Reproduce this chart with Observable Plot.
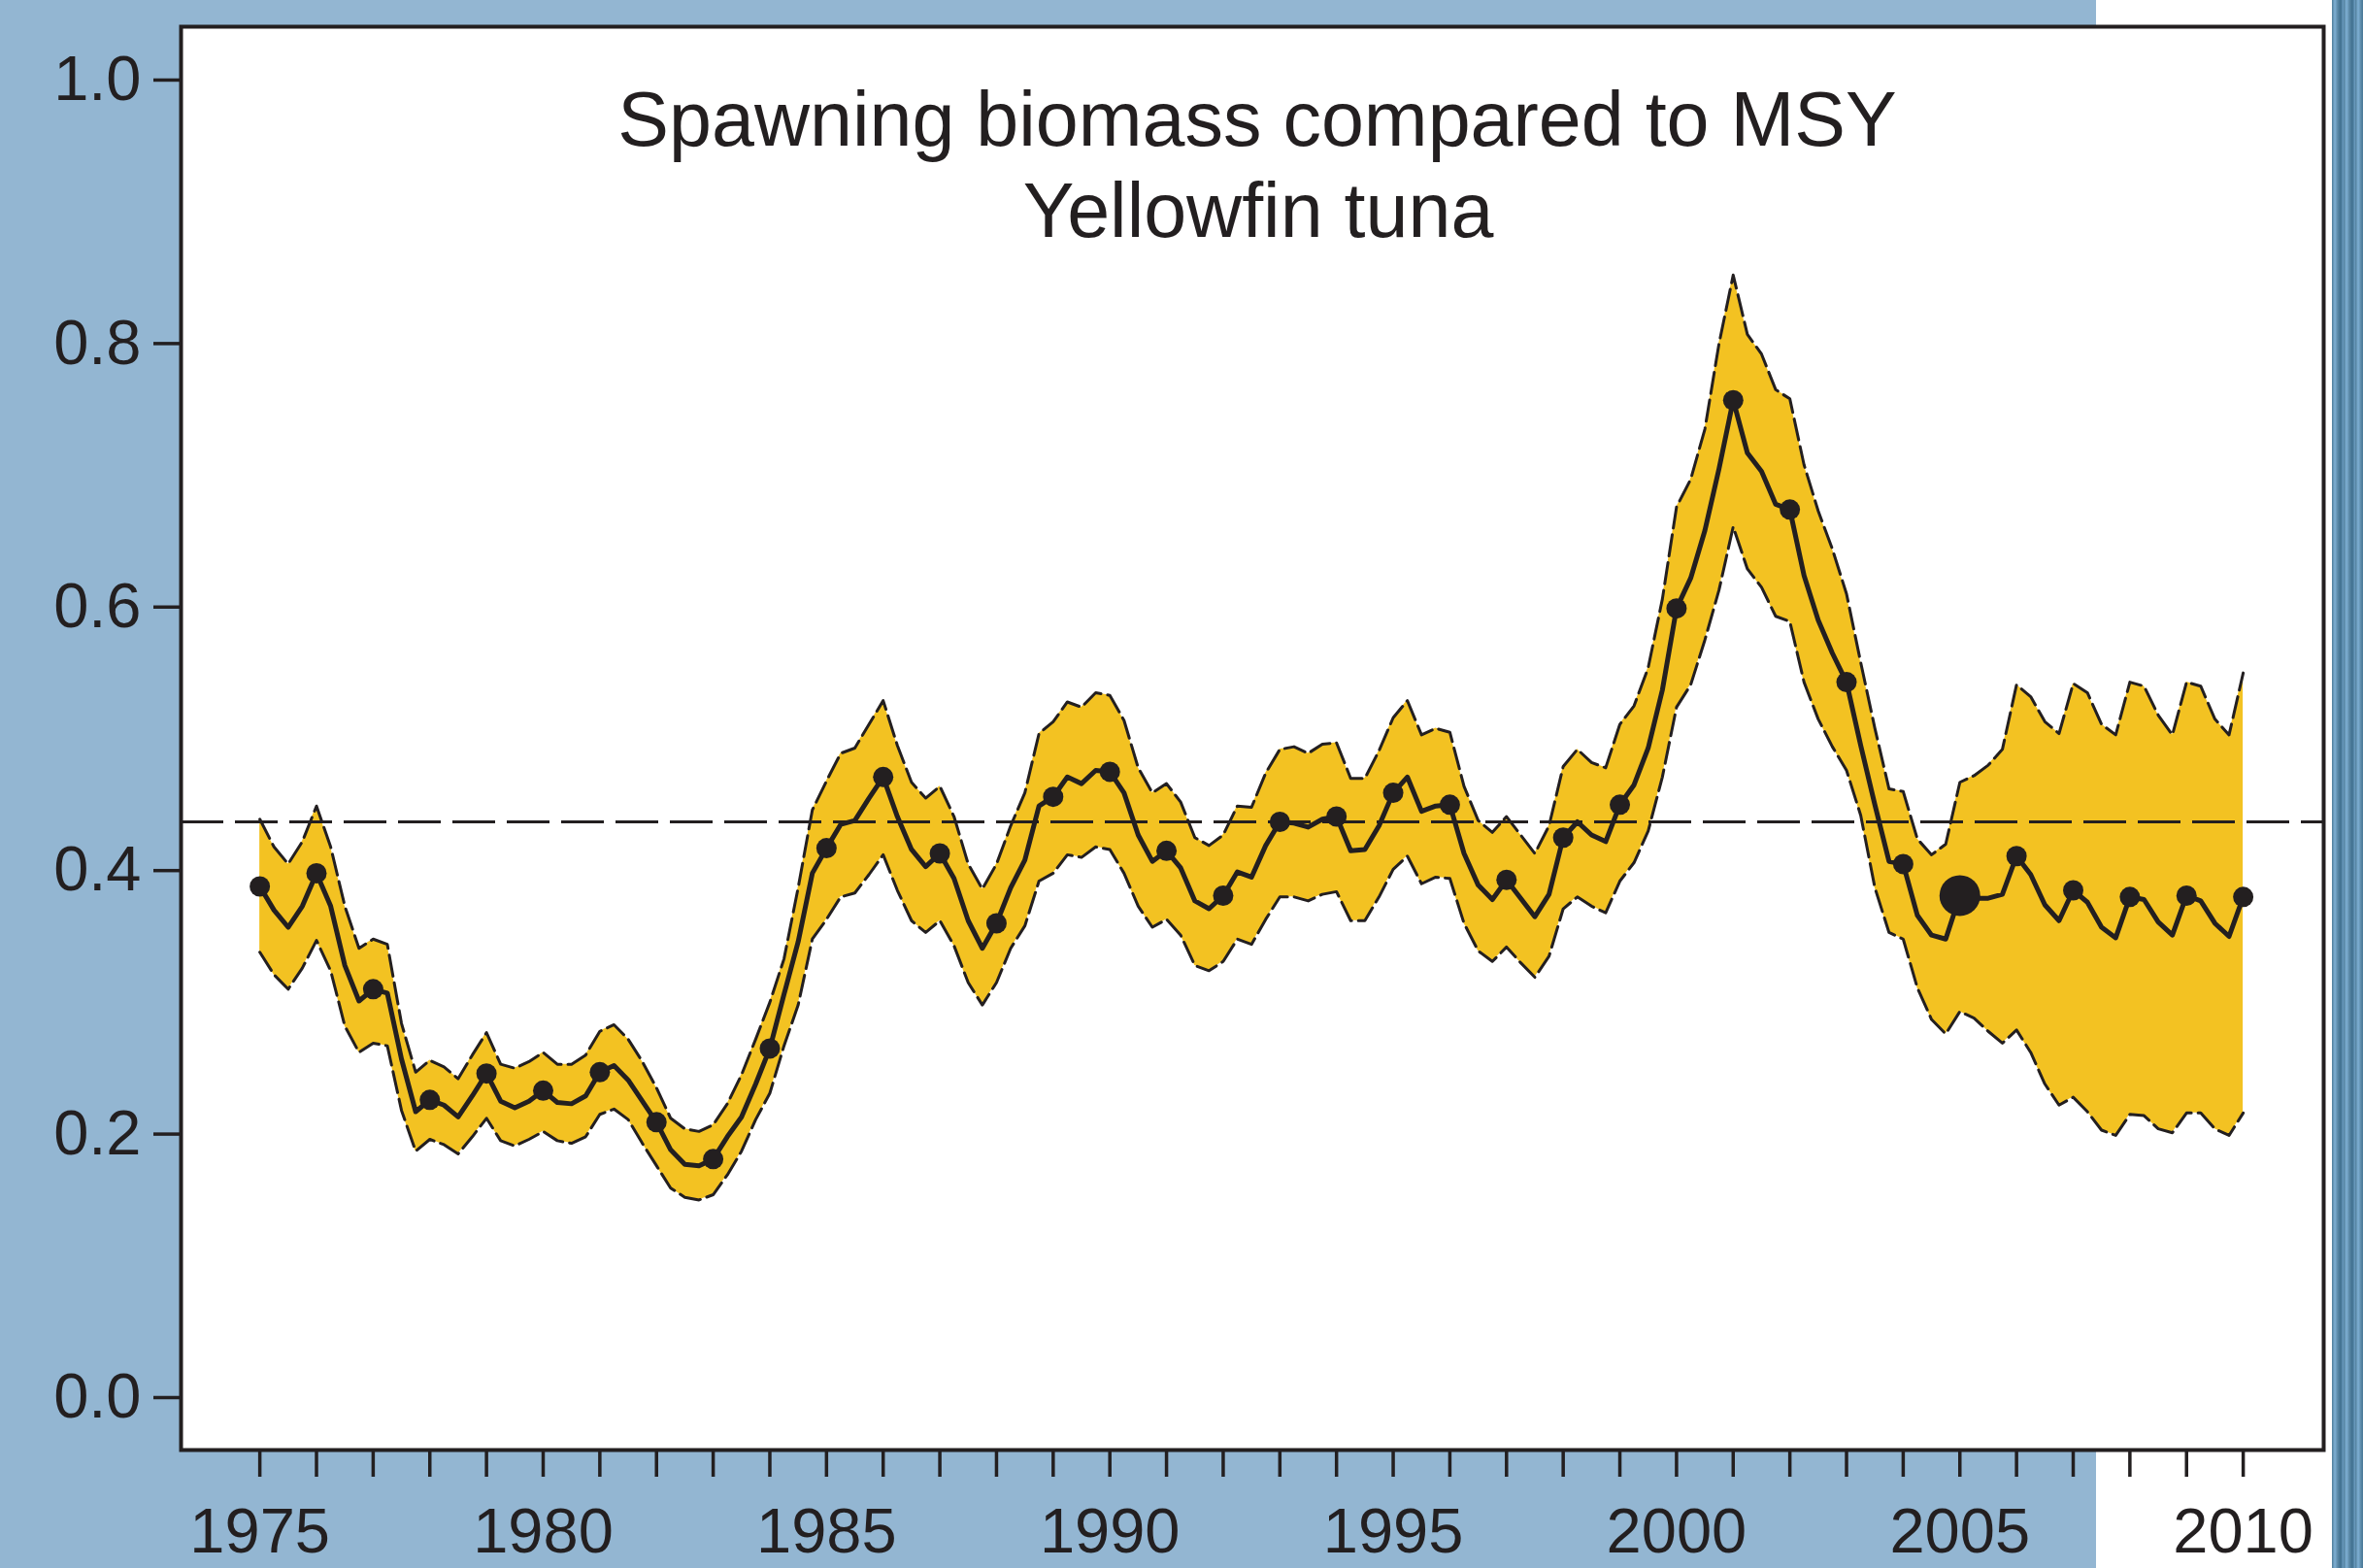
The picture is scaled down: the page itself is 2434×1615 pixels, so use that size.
<!DOCTYPE html>
<html>
<head>
<meta charset="utf-8">
<script src="https://cdn.jsdelivr.net/npm/d3@7"></script>
<script src="https://cdn.jsdelivr.net/npm/@observablehq/plot@0.6"></script>
<style>
  html, body { margin: 0; padding: 0; background: #ffffff; }
  #page { position: relative; width: 2434px; height: 1615px; overflow: hidden; background: #ffffff; }
  #blue { position: absolute; left: 0; top: 0; width: 2159px; height: 1615px; background: #93b6d2; }
  #strip { position: absolute; left: 2402px; top: 0; width: 32px; height: 1615px;
    background: repeating-linear-gradient(to right, #4f7d9a 0px, #7fb0d4 3px, #5a88a6 6px, #3f6f8e 9px, #6fa0c4 12px); }
  #chart { position: absolute; left: 0; top: 0; }
</style>
</head>
<body>
<div id="page">
  <div id="blue"></div>
  <div id="strip"></div>
  <div id="chart"></div>
</div>
<script>
// ---- Data (quarterly estimates, 1975.00 .. 2010.00) ----
const startYear = 1975;
const stepsPerYear = 4;

const spawningRatio = [
  0.388, 0.370, 0.357, 0.373,
  0.398, 0.373, 0.328, 0.301,
  0.310, 0.307, 0.257, 0.217,
  0.226, 0.222, 0.213, 0.229,
  0.246, 0.225, 0.220, 0.225,
  0.233, 0.224, 0.223, 0.229,
  0.247, 0.252, 0.241, 0.225,
  0.209, 0.188, 0.177, 0.176,
  0.181, 0.198, 0.213, 0.238,
  0.265, 0.306, 0.346, 0.398,
  0.417, 0.435, 0.438, 0.455,
  0.471, 0.441, 0.416, 0.403,
  0.413, 0.394, 0.362, 0.341,
  0.360, 0.387, 0.408, 0.449,
  0.456, 0.471, 0.466, 0.476,
  0.475, 0.459, 0.427, 0.407,
  0.415, 0.402, 0.377, 0.371,
  0.381, 0.399, 0.395, 0.419,
  0.437, 0.436, 0.433, 0.439,
  0.441, 0.415, 0.416, 0.434,
  0.459, 0.471, 0.445, 0.449,
  0.450, 0.413, 0.389, 0.378,
  0.393, 0.379, 0.365, 0.382,
  0.425, 0.437, 0.427, 0.422,
  0.450, 0.465, 0.493, 0.537,
  0.599, 0.622, 0.658, 0.705,
  0.757, 0.717, 0.703, 0.678,
  0.674, 0.624, 0.590, 0.565,
  0.543, 0.495, 0.450, 0.407,
  0.405, 0.366, 0.351, 0.348,
  0.381, 0.379, 0.379, 0.382,
  0.411, 0.397, 0.374, 0.362,
  0.385, 0.376, 0.357, 0.349,
  0.380, 0.378, 0.361, 0.351,
  0.381, 0.377, 0.360, 0.350,
  0.380
];

const upperBound = [
  0.439, 0.418, 0.405, 0.422,
  0.449, 0.418, 0.373, 0.341,
  0.348, 0.344, 0.284, 0.247,
  0.256, 0.251, 0.242, 0.260,
  0.277, 0.253, 0.250, 0.255,
  0.262, 0.253, 0.253, 0.260,
  0.278, 0.283, 0.272, 0.255,
  0.235, 0.212, 0.204, 0.202,
  0.207, 0.223, 0.245, 0.272,
  0.300, 0.333, 0.387, 0.446,
  0.468, 0.489, 0.493, 0.511,
  0.529, 0.495, 0.467, 0.455,
  0.464, 0.441, 0.405, 0.386,
  0.405, 0.434, 0.459, 0.504,
  0.513, 0.528, 0.524, 0.535,
  0.533, 0.514, 0.478, 0.459,
  0.466, 0.452, 0.425, 0.419,
  0.427, 0.449, 0.448, 0.474,
  0.492, 0.494, 0.489, 0.496,
  0.497, 0.470, 0.470, 0.491,
  0.516, 0.529, 0.503, 0.508,
  0.505, 0.464, 0.438, 0.429,
  0.441, 0.427, 0.413, 0.434,
  0.479, 0.492, 0.482, 0.478,
  0.511, 0.525, 0.554, 0.606,
  0.676, 0.697, 0.735, 0.800,
  0.852, 0.807, 0.792, 0.765,
  0.758, 0.708, 0.673, 0.644,
  0.610, 0.558, 0.508, 0.462,
  0.460, 0.424, 0.412, 0.420,
  0.467, 0.472, 0.480, 0.492,
  0.541, 0.532, 0.513, 0.504,
  0.542, 0.535, 0.511, 0.503,
  0.543, 0.540, 0.518, 0.503,
  0.543, 0.540, 0.515, 0.503,
  0.550
];

const lowerBound = [
  0.338, 0.321, 0.310, 0.326,
  0.347, 0.324, 0.282, 0.262,
  0.269, 0.267, 0.218, 0.187,
  0.196, 0.192, 0.185, 0.198,
  0.212, 0.195, 0.191, 0.196,
  0.202, 0.195, 0.193, 0.198,
  0.215, 0.219, 0.211, 0.193,
  0.176, 0.159, 0.152, 0.150,
  0.154, 0.169, 0.187, 0.211,
  0.231, 0.267, 0.298, 0.348,
  0.363, 0.380, 0.383, 0.397,
  0.412, 0.385, 0.362, 0.353,
  0.362, 0.343, 0.315, 0.298,
  0.315, 0.341, 0.358, 0.392,
  0.398, 0.412, 0.410, 0.418,
  0.416, 0.398, 0.373, 0.357,
  0.363, 0.351, 0.328, 0.324,
  0.331, 0.348, 0.344, 0.363,
  0.380, 0.380, 0.377, 0.382,
  0.384, 0.362, 0.362, 0.380,
  0.401, 0.411, 0.390, 0.395,
  0.394, 0.360, 0.339, 0.331,
  0.342, 0.330, 0.319, 0.335,
  0.371, 0.380, 0.373, 0.368,
  0.392, 0.406, 0.430, 0.471,
  0.524, 0.541, 0.575, 0.613,
  0.661, 0.629, 0.615, 0.593,
  0.589, 0.543, 0.515, 0.494,
  0.476, 0.442, 0.387, 0.353,
  0.348, 0.311, 0.287, 0.276,
  0.293, 0.288, 0.278, 0.269,
  0.279, 0.262, 0.238, 0.222,
  0.228, 0.217, 0.203, 0.199,
  0.215, 0.214, 0.204, 0.201,
  0.216, 0.216, 0.204, 0.199,
  0.216
];

const msyLevel = 0.437;
const highlightYear = 2005;

const xTickYears = d3.range(1975, 2011);
const xLabelYears = [1975, 1980, 1985, 1990, 1995, 2000, 2005, 2010];
const yTicks = [0.0, 0.2, 0.4, 0.6, 0.8, 1.0];

const titleLine1 = "Spawning biomass compared to MSY";
const titleLine2 = "Yellowfin tuna";

// ---- Build table ----
const series = spawningRatio.map((v, i) => ({
  t: startYear + i / stepsPerYear,
  mid: v,
  hi: upperBound[i],
  lo: lowerBound[i]
}));
const yearly = series.filter((d, i) => i % stepsPerYear === 0);
const highlight = yearly.filter(d => d.t === highlightYear);
const regular = yearly.filter(d => d.t !== highlightYear);

const ink = "#231f20";
const gold = "#f3c222";
const font = "'Liberation Sans', Arial, Helvetica, sans-serif";

const chart = Plot.plot({
  width: 2434,
  height: 1615,
  marginLeft: 186,
  marginRight: 41,
  marginTop: 27,
  marginBottom: 122,
  style: { background: "transparent", fontFamily: font, color: ink, overflow: "visible" },
  x: { domain: [1973.61, 2011.42] },
  y: { domain: [-0.0398, 1.0405] },
  marks: [
    Plot.frame({ fill: "white", stroke: null }),
    Plot.areaY(series, { x: "t", y1: "lo", y2: "hi", fill: gold }),
    Plot.ruleY([msyLevel], { stroke: ink, strokeWidth: 3, strokeDasharray: "44,12" }),
    Plot.lineY(series, { x: "t", y: "hi", stroke: ink, strokeWidth: 3, strokeDasharray: "22,7" }),
    Plot.lineY(series, { x: "t", y: "lo", stroke: ink, strokeWidth: 3, strokeDasharray: "22,7" }),
    Plot.lineY(series, { x: "t", y: "mid", stroke: ink, strokeWidth: 5 }),
    Plot.dot(regular, { x: "t", y: "mid", r: 10.5, fill: ink, stroke: null }),
    Plot.dot(highlight, { x: "t", y: "mid", r: 21, fill: ink, stroke: null }),
    Plot.text([titleLine1], { frameAnchor: "top", lineAnchor: "bottom", dy: 122, dx: 5, fontSize: 79, fill: ink }),
    Plot.text([titleLine2], { frameAnchor: "top", lineAnchor: "bottom", dy: 216, dx: 6, fontSize: 79, fill: ink }),
    Plot.axisY({
      ticks: yTicks, tickFormat: d3.format(".1f"), tickSize: 28, tickPadding: 13,
      fontSize: 65, strokeWidth: 3.5, stroke: ink, fill: ink, label: null
    }),
    Plot.axisX({
      ticks: xTickYears, tickFormat: d => xLabelYears.includes(d) ? String(d) : "",
      tickSize: 28, tickPadding: 31, fontSize: 65, strokeWidth: 3.5, stroke: ink, fill: ink, label: null
    }),
    Plot.frame({ stroke: ink, strokeWidth: 4 })
  ]
});
document.getElementById("chart").appendChild(chart);
</script>
</body>
</html>
